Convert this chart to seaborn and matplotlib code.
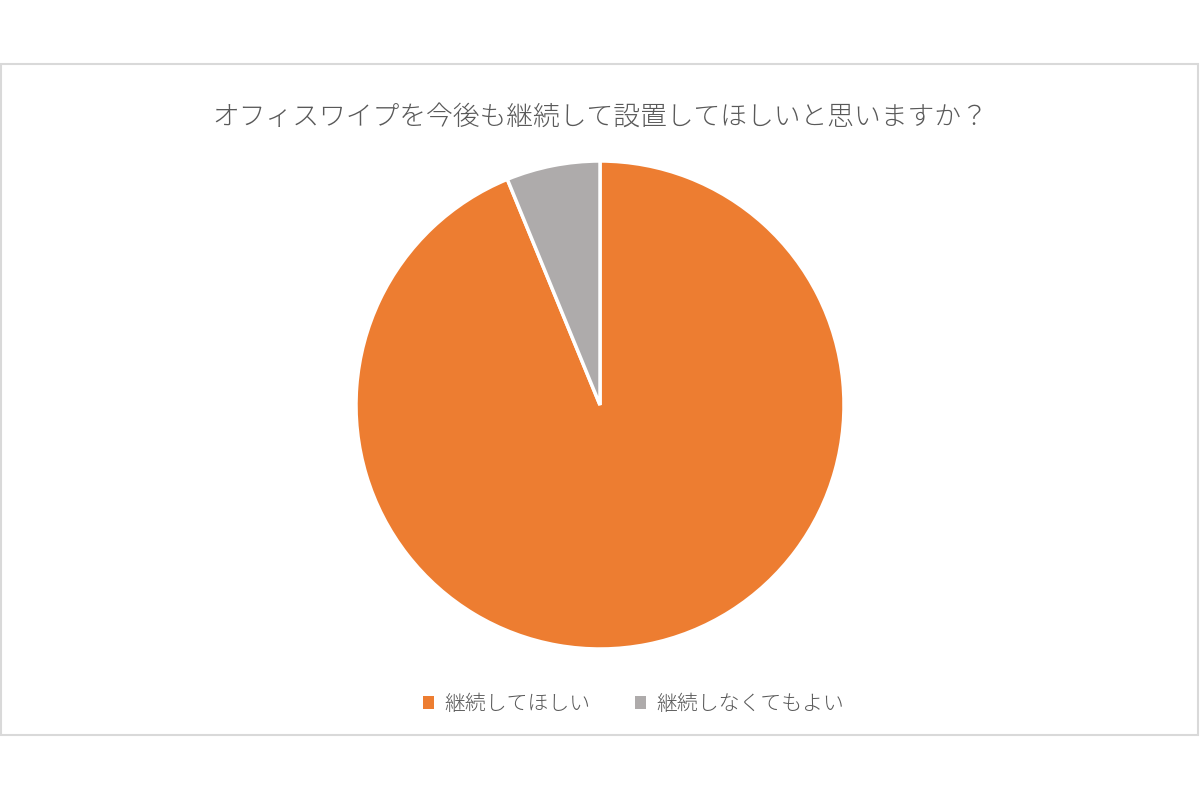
import matplotlib
matplotlib.use("Agg")
import matplotlib.pyplot as plt
import seaborn as sns
from matplotlib.patches import Rectangle, Patch

# データ
labels = ["継続してほしい", "継続しなくてもよい"]
values = [93.8, 6.2]
colors = ["#ED7D31", "#AEABAB"]
title = "オフィスワイプを今後も継続して設置してほしいと思いますか？"

sns.set_theme(style="white")
plt.rcParams['font.family'] = ['Noto Sans CJK JP', 'DejaVu Sans']

fig = plt.figure(figsize=(12, 8), dpi=100)
fig.patch.set_facecolor("white")

# 外枠
fig.patches.append(Rectangle((0.001, 1 - 735 / 800), 0.997, (735 - 64) / 800,
                             transform=fig.transFigure, fill=False,
                             edgecolor="#D9D9D9", linewidth=1.5))

ax = fig.add_axes([356 / 1200, (800 - 649) / 800, 488 / 1200, 488 / 800])
ax.pie(values, colors=colors, startangle=90, counterclock=False,
       wedgeprops=dict(edgecolor="white", linewidth=2.5), radius=1)
ax.set_xlim(-1.0, 1.0)
ax.set_ylim(-1.0, 1.0)
ax.set_aspect("equal")
ax.axis("off")

fig.text(0.5, 1 - 117 / 800, title, ha="center", va="center",
         fontsize=19.3, color="#595959", fontweight="light")

handles = [Patch(facecolor=c, edgecolor="none") for c in colors]
fig.legend(handles, labels, loc="center", bbox_to_anchor=(0.528, 1 - 704 / 800),
           ncol=2, frameon=False, fontsize=15, labelcolor="#595959",
           handlelength=0.55, handleheight=0.55, handletextpad=0.5,
           columnspacing=2.1, prop=dict(weight="light", size=15))

fig.savefig("out.png", dpi=100, facecolor="white")
